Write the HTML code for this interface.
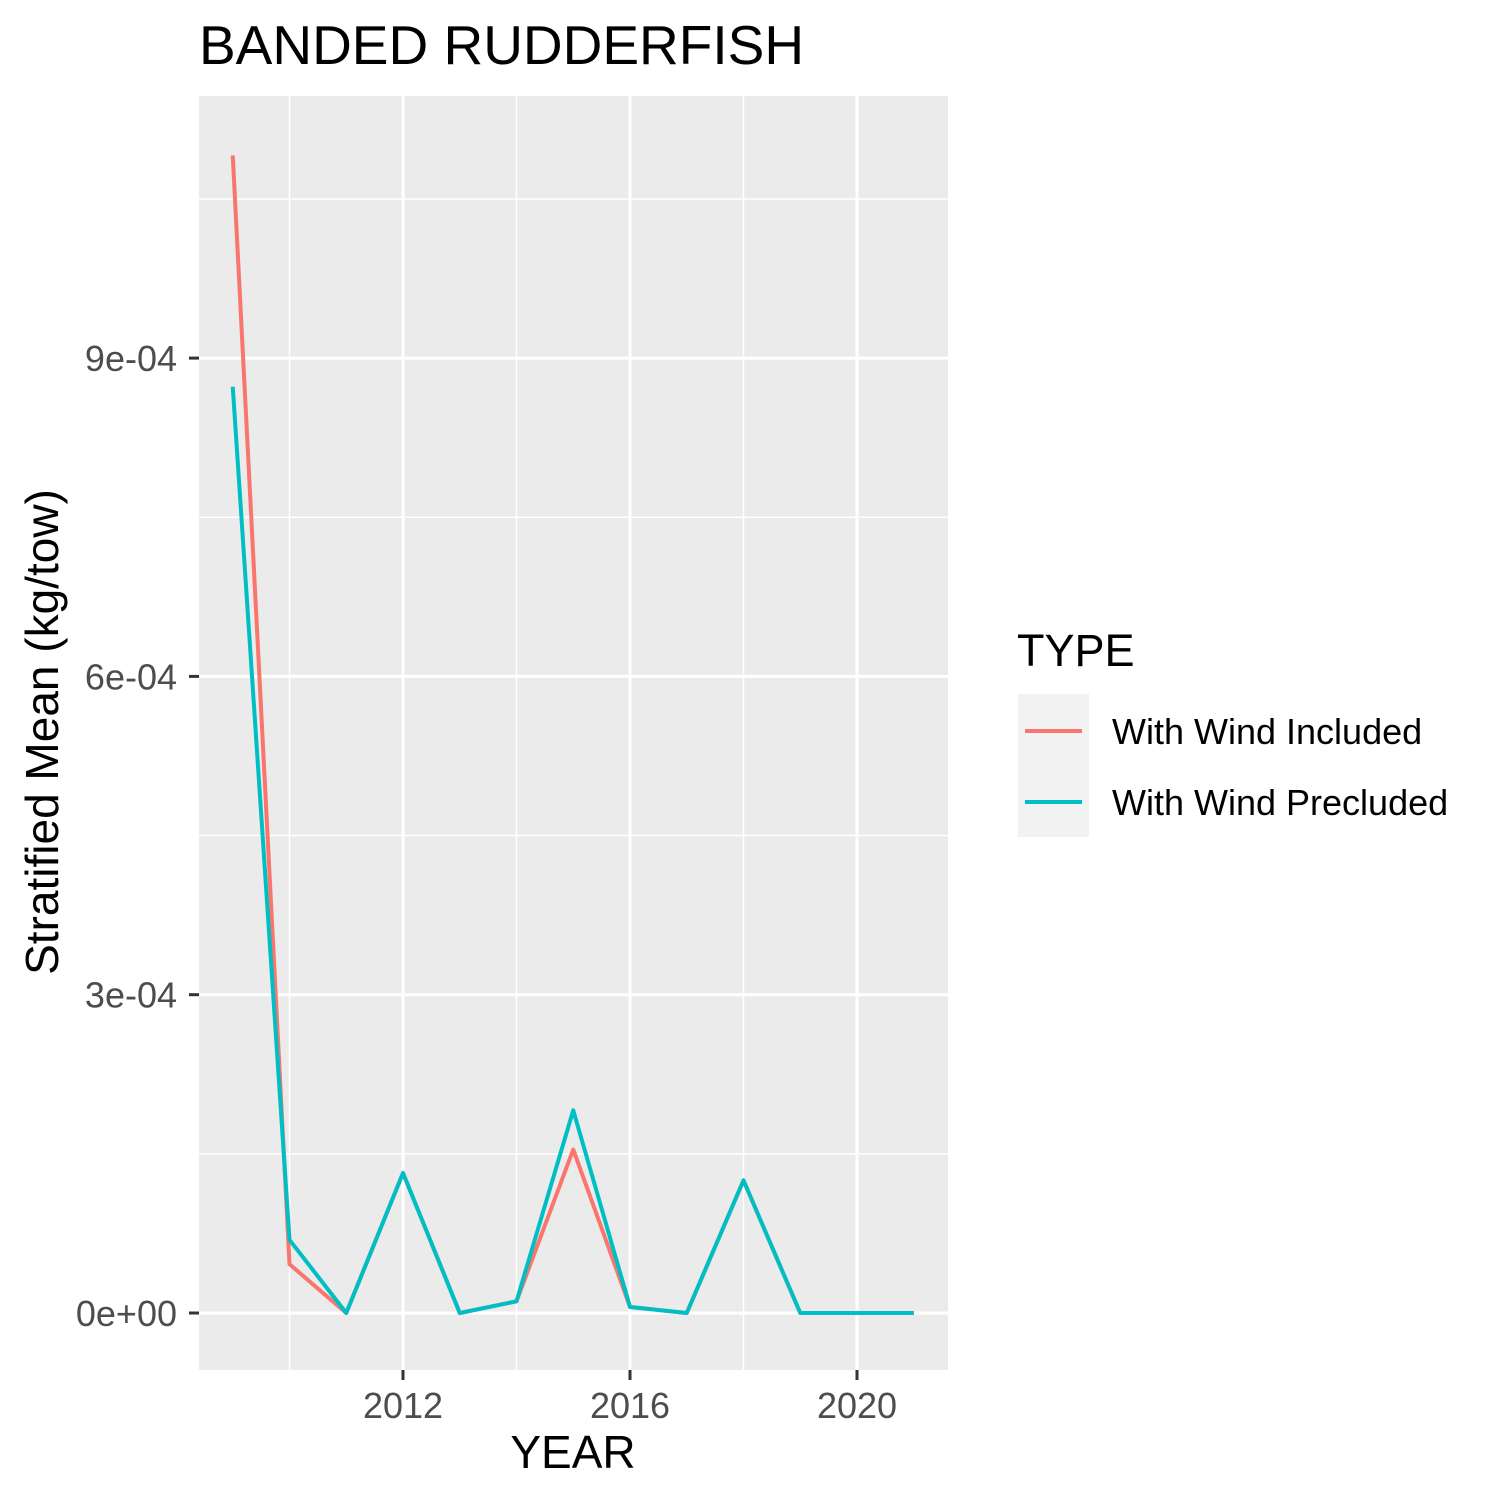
<!DOCTYPE html>
<html><head><meta charset="utf-8"><style>body{margin:0;background:#fff}svg{display:block;font-family:"Liberation Sans",Arial,sans-serif}</style></head>
<body>
<svg id="chart" width="1500" height="1500" viewBox="0 0 1500 1500">
<rect x="0" y="0" width="1500" height="1500" fill="#fff"/>
<text x="199" y="64" font-size="55" fill="#000">BANDED RUDDERFISH</text>
<rect x="199" y="96" width="749" height="1274" fill="#ebebeb"/>
<g id="grid"></g>
<g id="series"></g>
<g id="axes"></g>
<text x="573" y="1468" font-size="46" text-anchor="middle" fill="#000">YEAR</text>
<text transform="translate(58,732) rotate(-90)" font-size="46" text-anchor="middle" fill="#000">Stratified Mean (kg/tow)</text>
<g>
<text x="1017" y="666" font-size="45" fill="#000">TYPE</text>
<rect x="1018" y="694" width="71" height="143" fill="#f2f2f2"/>
<line x1="1025" y1="731" x2="1082" y2="731" stroke="#f8766d" stroke-width="4"/>
<line x1="1025" y1="802" x2="1082" y2="802" stroke="#00bfc4" stroke-width="4"/>
<text x="1112" y="744" font-size="36" fill="#000">With Wind Included</text>
<text x="1112" y="815" font-size="36" fill="#000">With Wind Precluded</text>
</g>
</svg>
<script>
const years=[2009,2010,2011,2012,2013,2014,2015,2016,2017,2018,2019,2020,2021];
const included=[1.091e-3,4.6e-5,0,1.32e-4,0,1.1e-5,1.54e-4,5.7e-6,0,1.25e-4,0,0,0];
const precluded=[8.73e-4,6.9e-5,0,1.32e-4,0,1.1e-5,1.91e-4,5.7e-6,0,1.25e-4,0,0,0];
const yTicks=[0,3e-4,6e-4,9e-4];
const yTickLabels=["0e+00","3e-04","6e-04","9e-04"];
const xTicks=[2012,2016,2020];
const NS="http://www.w3.org/2000/svg";
const x=v=>403+(v-2012)*56.75;
const y=v=>1313-v/3e-4*318.3;
function mk(t,a,p){const e=document.createElementNS(NS,t);for(const k in a)e.setAttribute(k,a[k]);p.appendChild(e);return e;}
const grid=document.getElementById('grid'),axes=document.getElementById('axes'),ser=document.getElementById('series');
for(let i=0;i<yTicks.length-1;i++){const m=(yTicks[i]+yTicks[i+1])/2;
const g=mk('line',{x1:199,x2:948,y1:y(m),y2:y(m),stroke:'#fff','stroke-width':1.5},grid);

}
{const m=yTicks[3]+1.5e-4;const g=mk('line',{x1:199,x2:948,y1:y(m),y2:y(m),stroke:'#fff','stroke-width':1.5},grid);

}
[2010,2014,2018].forEach(v=>{const g=mk('line',{x1:x(v),x2:x(v),y1:96,y2:1370,stroke:'#fff','stroke-width':1.5},grid);

});
yTicks.forEach((v,i)=>{const g=mk('line',{x1:199,x2:948,y1:y(v),y2:y(v),stroke:'#fff','stroke-width':3},grid);


const t=mk('line',{x1:189,x2:199,y1:y(v),y2:y(v),stroke:'#333','stroke-width':3},axes);


const l=mk('text',{x:177,y:y(v)+13,'font-size':36,'text-anchor':'end',fill:'#4d4d4d'},axes);l.textContent=yTickLabels[i];

});
xTicks.forEach(v=>{const g=mk('line',{x1:x(v),x2:x(v),y1:96,y2:1370,stroke:'#fff','stroke-width':3},grid);


const t=mk('line',{x1:x(v),x2:x(v),y1:1370,y2:1380,stroke:'#333','stroke-width':3},axes);


const l=mk('text',{x:x(v),y:1418,'font-size':36,'text-anchor':'middle',fill:'#4d4d4d'},axes);l.textContent=v;

});
function line(vals,color,name){const p=mk('polyline',{points:vals.map((v,i)=>x(years[i])+','+y(v)).join(' '),fill:'none',stroke:color,'stroke-width':4,'stroke-linejoin':'round'},ser);

}
line(included,'#f8766d','line-wind-included');
line(precluded,'#00bfc4','line-wind-precluded');
</script>
</body></html>
